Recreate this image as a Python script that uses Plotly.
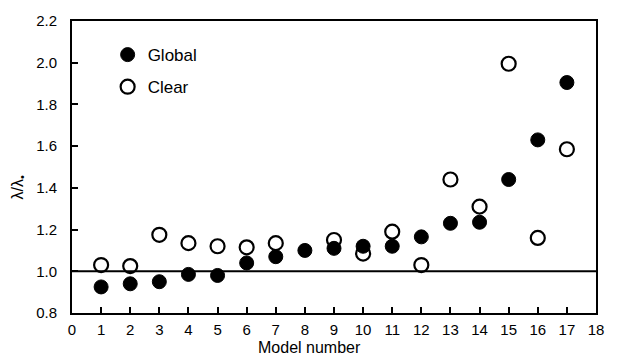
import plotly.graph_objects as go

models = list(range(1, 18))
global_vals = [0.925, 0.94, 0.95, 0.985, 0.98, 1.04, 1.07, 1.10, 1.11, 1.12, 1.12, 1.165, 1.23, 1.235, 1.44, 1.63, 1.905]
clear_vals = [1.03, 1.025, 1.175, 1.135, 1.12, 1.115, 1.135, None, 1.15, 1.085, 1.19, 1.03, 1.44, 1.31, 1.995, 1.16, 1.585]
x_ticks = list(range(0, 19))
y_ticks = [0.8, 1.0, 1.2, 1.4, 1.6, 1.8, 2.0, 2.2]

FONT = "Liberation Sans, Arial, sans-serif"

fig = go.Figure()
fig.add_trace(go.Scatter(
    x=models, y=global_vals, mode="markers", name="Global", legendgroup="g",
    marker=dict(symbol="circle", size=14, color="black", line=dict(color="black", width=1)),
))
fig.add_trace(go.Scatter(
    x=models, y=clear_vals, mode="markers", name="Clear", legendgroup="c",
    marker=dict(symbol="circle-open", size=14, color="black", line=dict(color="black", width=2.2)),
))

fig.add_shape(type="line", xref="paper", x0=0, x1=1, yref="y", y0=1.0, y1=1.0,
              line=dict(color="black", width=2))

axis_common = dict(showline=True, linecolor="black", linewidth=2, mirror=True,
                   ticks="inside", ticklen=6, tickwidth=2, tickcolor="black",
                   showgrid=False, zeroline=False,
                   tickfont=dict(family=FONT, size=15, color="black"))

fig.update_xaxes(range=[0, 18], tickvals=x_ticks, ticktext=[str(v) for v in x_ticks],
                 ticklabelstandoff=2, **axis_common)
fig.update_yaxes(range=[0.8, 2.2], tickvals=y_ticks, ticktext=[f"{v:.1f}" for v in y_ticks],
                 ticklabelstandoff=10, **axis_common)

fig.add_annotation(text="Model number", xref="paper", yref="paper", x=0.454, y=-0.118,
                   xanchor="center", yanchor="middle", showarrow=False,
                   font=dict(family=FONT, size=16, color="black"))
fig.add_annotation(text="λ/λ<sub>•</sub>", xref="paper", yref="paper", x=-0.103, y=0.43,
                   xanchor="center", yanchor="middle", showarrow=False, textangle=-90,
                   font=dict(family=FONT, size=16, color="black"))

fig.update_layout(
    width=619, height=363,
    margin=dict(l=72, r=23, t=16, b=50),
    paper_bgcolor="white", plot_bgcolor="white",
    font=dict(family=FONT, size=14, color="black"),
    legend=dict(x=0.068, y=0.945, xanchor="left", yanchor="top",
                bgcolor="rgba(0,0,0,0)", font=dict(family=FONT, size=17, color="black"),
                tracegroupgap=7, itemwidth=30),
    showlegend=True,
)

fig.write_html("out.html")
